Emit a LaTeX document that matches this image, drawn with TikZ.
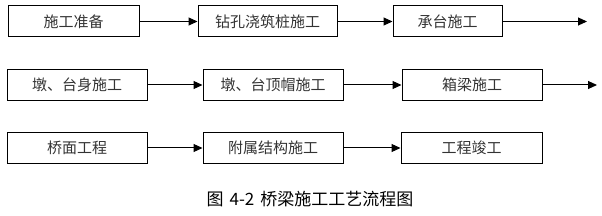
\documentclass[tikz,border=0pt]{standalone}
\usepackage{fontspec}
\setmainfont{Noto Sans CJK SC}
\usetikzlibrary{arrows.meta}
\begin{document}
\begin{tikzpicture}[x=1pt,y=-1pt,
  stepbox/.style={draw, line width=1pt, minimum height=31pt, inner sep=0pt, font=\fontsize{15}{16}\selectfont, text=black!80},
  flow/.style={line width=1pt, -{Triangle[length=9pt,width=8pt]}}]
\useasboundingbox (0,0) rectangle (602,216);
\node[stepbox, minimum width=131pt] (b11) at (73.5,21.5) {施工准备};
\node[stepbox, minimum width=139pt] (b12) at (267.5,21.5) {钻孔浇筑桩施工};
\node[stepbox, minimum width=109pt] (b13) at (447.5,21.5) {承台施工};
\coordinate (e1) at (587,21.5);
\node[stepbox, minimum width=140pt] (b21) at (77,85) {墩、台身施工};
\node[stepbox, minimum width=140pt] (b22) at (273,85) {墩、台顶帽施工};
\node[stepbox, minimum width=140pt] (b23) at (472,85) {箱梁施工};
\coordinate (e2) at (597,85);
\node[stepbox, minimum width=140pt] (b31) at (77,148) {桥面工程};
\node[stepbox, minimum width=140pt] (b32) at (273,148) {附属结构施工};
\node[stepbox, minimum width=141pt] (b33) at (471.5,148) {工程竣工};
\draw[flow] (b11) -- (b12);
\draw[flow] (b12) -- (b13);
\draw[flow] (b13.east) -- (e1);
\draw[flow] (b21) -- (b22);
\draw[flow] (b22) -- (b23);
\draw[flow] (b23.east) -- (e2);
\draw[flow] (b31) -- (b32);
\draw[flow] (b32) -- (b33);
\node[font=\fontsize{17}{19}\selectfont] (cap) at (310,199) {图\hspace{6pt}4-2\hspace{6pt}桥梁施工工艺流程图};
\end{tikzpicture}
\end{document}
